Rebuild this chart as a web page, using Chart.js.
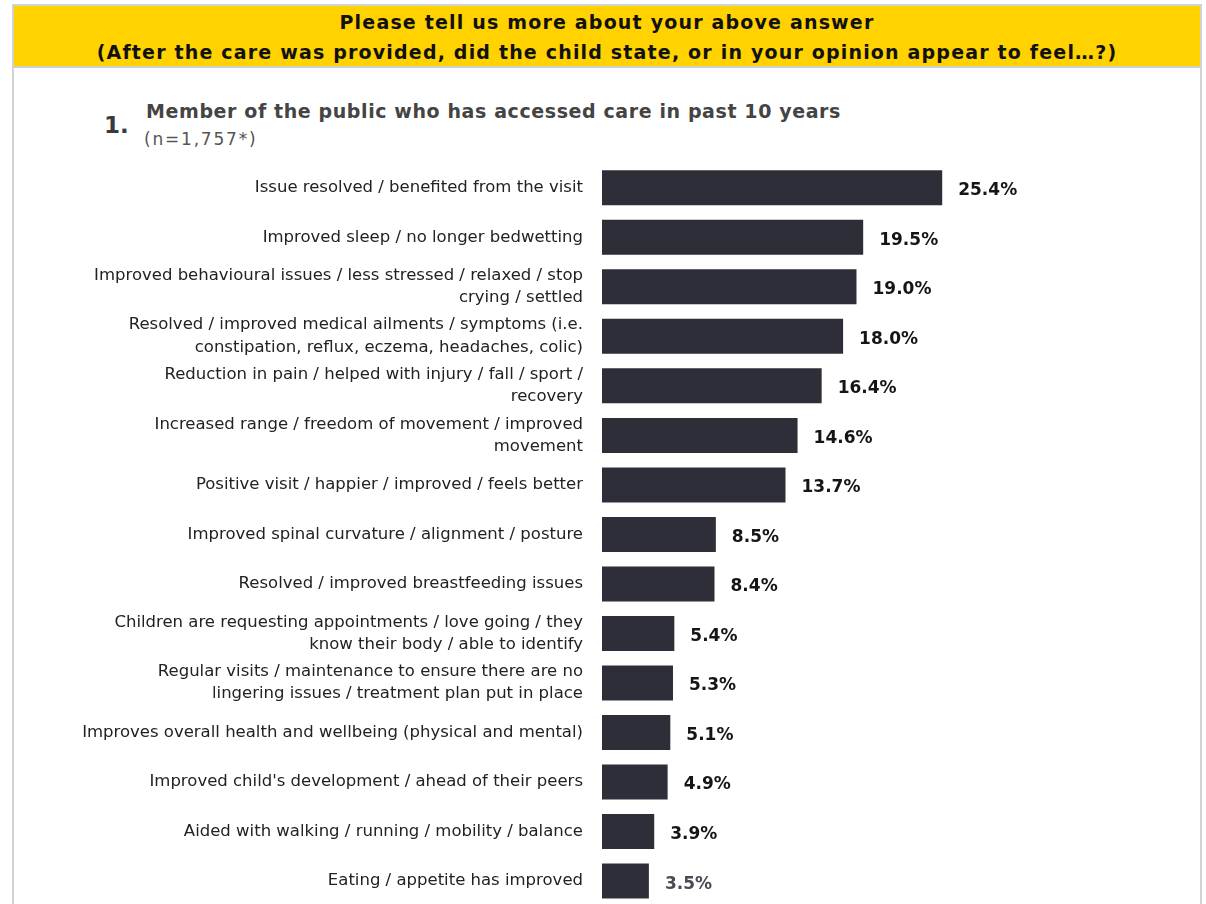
<!DOCTYPE html>
<html><head><meta charset="utf-8">
<script src="https://cdn.jsdelivr.net/npm/chart.js@4"></script>
<style>
html,body{margin:0;padding:0;background:#fff;width:1206px;height:904px;overflow:hidden;}
#frame{position:absolute;left:12px;top:4px;width:1190px;height:910px;border:2px solid #d2d2d2;box-sizing:border-box;}
#hdr{position:absolute;left:0;top:0;right:0;height:59px;background:#FFD200;border-bottom:2px solid #cfcfcf;
 font-family:"DejaVu Sans";font-weight:bold;font-size:19px;letter-spacing:1.18px;color:#111;text-align:center;line-height:30px;padding-top:1px;box-sizing:content-box;}
#num{position:absolute;left:104px;top:112px;font-family:"DejaVu Sans";font-weight:bold;font-size:23px;color:#3a3a3a;}
#ttl{position:absolute;left:146px;top:100px;font-family:"DejaVu Sans";font-weight:bold;font-size:19px;letter-spacing:0.6px;color:#444;}
#sub{position:absolute;left:144px;top:129px;font-family:"DejaVu Sans";font-size:17px;letter-spacing:1.8px;color:#555;}
#wrap{position:absolute;left:0;top:0;width:1206px;height:928px;}
</style></head>
<body>
<div id="frame"><div id="hdr">Please tell us more about your above answer<br>(After the care was provided, did the child state, or in your opinion appear to feel…?)</div></div>
<div id="num">1.</div>
<div id="ttl">Member of the public who has accessed care in past 10 years</div>
<div id="sub">(n=1,757*)</div>
<div id="wrap"><canvas id="c" width="1206" height="928"></canvas></div>
<script>
const categories = [
 "Issue resolved / benefited from the visit",
 "Improved sleep / no longer bedwetting",
 ["Improved behavioural issues / less stressed / relaxed / stop","crying / settled"],
 ["Resolved / improved medical ailments / symptoms (i.e.","constipation, reflux, eczema, headaches, colic)"],
 ["Reduction in pain / helped with injury / fall / sport /","recovery"],
 ["Increased range / freedom of movement / improved","movement"],
 "Positive visit / happier / improved / feels better",
 "Improved spinal curvature / alignment / posture",
 "Resolved / improved breastfeeding issues",
 ["Children are requesting appointments / love going / they","know their body / able to identify"],
 ["Regular visits / maintenance to ensure there are no","lingering issues / treatment plan put in place"],
 "Improves overall health and wellbeing (physical and mental)",
 "Improved child's development / ahead of their peers",
 "Aided with walking / running / mobility / balance",
 "Eating / appetite has improved"
];
const values = [25.4,19.5,19.0,18.0,16.4,14.6,13.7,8.5,8.4,5.4,5.3,5.1,4.9,3.9,3.5];
const valueLabels = values.map(v => v.toFixed(1) + "%");

const valuePlugin = {
  id: 'valuePlugin',
  afterDatasetsDraw(chart) {
    const ctx = chart.ctx;
    const meta = chart.getDatasetMeta(0);
    ctx.save();
    ctx.font = 'bold 17px "DejaVu Sans"';
    ctx.textBaseline = 'middle';
    ctx.textAlign = 'left';
    meta.data.forEach((bar, i) => {
      ctx.fillStyle = i === values.length - 1 ? '#4a4a56' : '#151515';
      ctx.fillText(valueLabels[i], bar.x + 16, bar.y + 3);
    });
    ctx.restore();
  }
};

new Chart(document.getElementById('c'), {
  type: 'bar',
  data: { labels: categories, datasets: [{ data: values, backgroundColor: '#2e2e38', borderWidth: 0,
    barPercentage: 0.707, categoryPercentage: 1 }] },
  options: {
    indexAxis: 'y', responsive: false, animation: false,
    layout: { padding: { top: 163, right: 16, bottom: 0, left: 0 } },
    plugins: { legend: { display: false }, tooltip: { enabled: false } },
    scales: {
      x: { display: false, min: 0, max: 43.9 },
      y: {
        afterFit(s) { s.width = 602; },
        grid: { display: false }, border: { display: false },
        ticks: { color: '#222', padding: 11, font: { family: 'DejaVu Sans', size: 16.5, lineHeight: 1.35 } }
      }
    }
  },
  plugins: [valuePlugin]
});
</script>
</body></html>
